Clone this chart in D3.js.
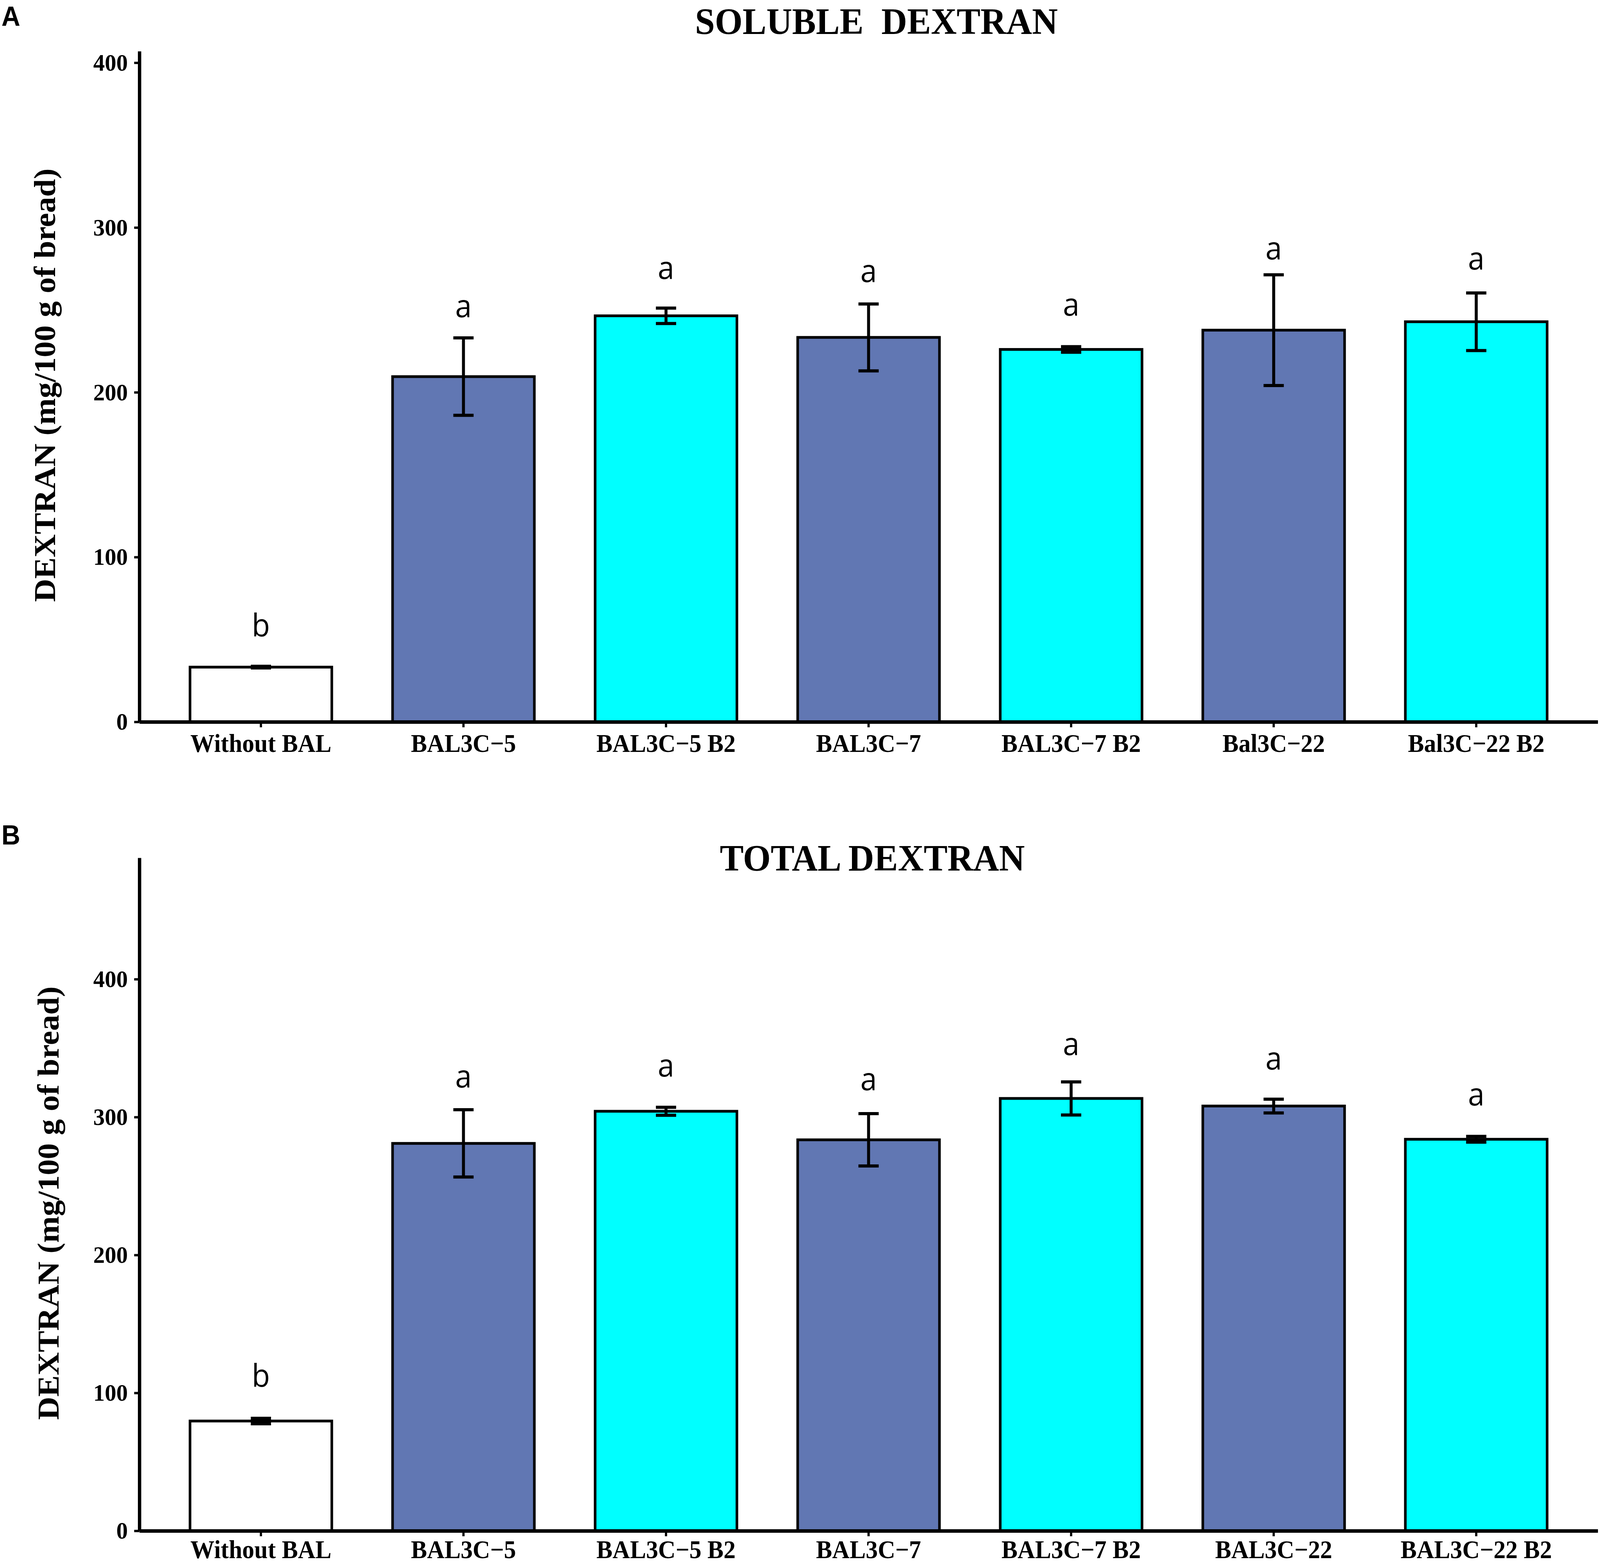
<!DOCTYPE html>
<html>
<head>
<meta charset="utf-8">
<title>Soluble and total dextran</title>
<script src="https://cdn.jsdelivr.net/npm/d3@7"></script>
<style>
  html, body { margin: 0; padding: 0; width: 100%; height: 100%; overflow: hidden; background: #fff; }
  svg { display: block; }
</style>
</head>
<body>
<script>
// data
var catsA = ["Without BAL", "BAL3C\u22125", "BAL3C\u22125 B2", "BAL3C\u22127", "BAL3C\u22127 B2", "Bal3C\u221222", "Bal3C\u221222 B2"];
var catsB = ["Without BAL", "BAL3C\u22125", "BAL3C\u22125 B2", "BAL3C\u22127", "BAL3C\u22127 B2", "BAL3C\u221222", "BAL3C\u221222 B2"];
var groups = ["control", "strain", "b2", "strain", "b2", "strain", "b2"];

var solubleMean = [33.2, 209.5, 246.4, 233.3, 226.0, 237.7, 242.8];
var solubleSd = [0.5, 23.5, 4.7, 20.3, 1.7, 33.6, 17.5];
var solubleLetters = ["b", "a", "a", "a", "a", "a", "a"];
var solubleLetterY = [52.0, 245.6, 268.9, 266.9, 246.6, 280.7, 274.4];

var totalMean = [79.6, 280.9, 304.2, 283.5, 313.5, 308.0, 283.9];
var totalSd = [2.0, 24.4, 2.9, 19.0, 12.0, 5.0, 2.1];
var totalLetters = ["b", "a", "a", "a", "a", "a", "a"];
var totalLetterY = [104.5, 321.4, 329.5, 319.6, 345.1, 334.6, 308.5];

var yTicks = [0, 100, 200, 300, 400];

var width = 4305;
var height = 4004;

var fill = d3.scaleOrdinal()
    .domain(["control", "strain", "b2"])
    .range(["#ffffff", "#6177b3", "#00ffff"]);

var serif = "'Liberation Serif', 'Times New Roman', serif";

// viewBox stretched over the window so the figure always fills it
var svg = d3.select("body")
    .append("svg")
    .attr("viewBox", "0 0 " + width + " " + height)
    .attr("preserveAspectRatio", "none")
    .attr("width", "100%")
    .attr("height", "100%");

function drawPanel(p) {
    var x = d3.scaleBand()
        .domain(p.cats)
        .range([375, 4299])
        .paddingInner(0.3)
        .paddingOuter(0.25);
    var y = d3.scaleLinear()
        .domain([0, p.yMax])
        .range([p.bottom, p.top]);

    var g = svg.append("g");

    var rows = p.cats.map(function(c, i) {
        return { cat: c, mean: p.mean[i], sd: p.sd[i], group: groups[i],
                 letter: p.letters[i], ly: p.letterY[i] };
    });

    // bars
    g.selectAll("rect.bar")
        .data(rows)
        .enter()
        .append("rect")
        .attr("class", "bar")
        .attr("x", function(d) { return x(d.cat); })
        .attr("width", x.bandwidth())
        .attr("y", function(d) { return y(d.mean); })
        .attr("height", function(d) { return y(0) - y(d.mean); })
        .attr("fill", function(d) { return fill(d.group); })
        .attr("stroke", "#000")
        .attr("stroke-width", 7);

    // error bars
    var cap = x.step() * 0.1;
    g.selectAll("path.err")
        .data(rows)
        .enter()
        .append("path")
        .attr("class", "err")
        .attr("fill", "none")
        .attr("stroke", "#000")
        .attr("stroke-width", 8)
        .attr("d", function(d) {
            var cx = x(d.cat) + x.bandwidth() / 2;
            var hi = y(d.mean + d.sd), lo = y(d.mean - d.sd);
            return "M" + (cx - cap / 2) + "," + hi + "H" + (cx + cap / 2) +
                   "M" + cx + "," + hi + "V" + lo +
                   "M" + (cx - cap / 2) + "," + lo + "H" + (cx + cap / 2);
        });

    // significance letters
    g.selectAll("text.letter")
        .data(rows)
        .enter()
        .append("text")
        .attr("class", "letter")
        .attr("x", function(d) { return x(d.cat) + x.bandwidth() / 2; })
        .attr("y", function(d) { return y(d.ly); })
        .attr("text-anchor", "middle")
        .style("font-family", "'Open Sans', sans-serif")
        .style("font-size", "80px")
        .text(function(d) { return d.letter; });

    // axes
    var yAxis = g.append("g")
        .attr("transform", "translate(375,0)")
        .call(d3.axisLeft(y).tickValues(yTicks).tickSize(14).tickSizeOuter(0).tickPadding(17));
    var xAxis = g.append("g")
        .attr("transform", "translate(0," + p.bottom + ")")
        .call(d3.axisBottom(x).tickSize(14).tickSizeOuter(0).tickPadding(p.xPad));

    [yAxis, xAxis].forEach(function(a) {
        a.select(".domain").attr("stroke-width", 9).attr("stroke", "#000");
        a.selectAll(".tick line").attr("stroke-width", 6).attr("stroke", "#000");
        a.selectAll(".tick text")
            .attr("fill", "#000")
            .style("font-family", serif)
            .style("font-weight", "bold");
    });
    yAxis.selectAll(".tick text").style("font-size", "62px");
    xAxis.selectAll(".tick text").style("font-size", "65px");

    // axis title
    g.append("text")
        .attr("transform", "translate(" + p.labelX + "," + p.labelY + ") rotate(-90)")
        .attr("text-anchor", "middle")
        .style("font-family", serif)
        .style("font-weight", "bold")
        .style("font-size", "82px")
        .text("DEXTRAN (mg/100 g of bread)");

    // panel title
    g.append("text")
        .attr("x", p.titleX)
        .attr("y", p.titleY)
        .attr("text-anchor", "middle")
        .style("white-space", "pre")
        .style("font-family", serif)
        .style("font-weight", "bold")
        .style("font-size", "96px")
        .text(p.title);

    // panel letter
    g.append("text")
        .attr("x", 4)
        .attr("y", p.tagY)
        .style("font-family", "'Liberation Sans', Arial, sans-serif")
        .style("font-weight", "bold")
        .style("font-size", "70px")
        .text(p.tag);
}

drawPanel({
    cats: catsA, mean: solubleMean, sd: solubleSd,
    letters: solubleLetters, letterY: solubleLetterY,
    top: 131, bottom: 1848, yMax: 407, xPad: 17,
    title: "SOLUBLE  DEXTRAN", titleX: 2358, titleY: 87,
    labelX: 148, labelY: 986,
    tag: "A", tagY: 66
});

drawPanel({
    cats: catsB, mean: totalMean, sd: totalSd,
    letters: totalLetters, letterY: totalLetterY,
    top: 2196, bottom: 3919, yMax: 488, xPad: 10,
    title: "TOTAL DEXTRAN", titleX: 2347, titleY: 2229,
    labelX: 158, labelY: 3080,
    tag: "B", tagY: 2162
});
</script>
</body>
</html>
